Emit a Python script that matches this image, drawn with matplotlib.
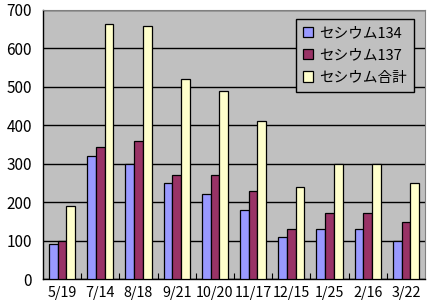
import matplotlib
matplotlib.use('Agg')
import matplotlib.pyplot as plt
import numpy as np

plt.rcParams['font.family'] = ['Noto Sans CJK JP', 'DejaVu Sans']

# données
dates = ['5/19', '7/14', '8/18', '9/21', '10/20', '11/17', '12/15', '1/25', '2/16', '3/22']
cs134 = [90, 320, 300, 250, 220, 180, 110, 130, 130, 100]
cs137 = [98, 343, 358, 270, 270, 229, 129, 171, 171, 148]
cs_total = [190, 664, 658, 520, 490, 410, 239, 300, 300, 250]

fig = plt.figure(figsize=(4.37, 3.02), dpi=100)
ax = fig.add_axes([43 / 437, 23 / 302, 382 / 437, 269 / 302])
ax.set_facecolor('#C0C0C0')

x = np.arange(len(dates))
w = 0.23
kw = dict(width=w, edgecolor='black', linewidth=0.9, zorder=3)
ax.bar(x - w, cs134, color='#9999FF', label='セシウム134', **kw)
ax.bar(x, cs137, color='#993366', label='セシウム137', **kw)
ax.bar(x + w, cs_total, color='#FFFFCC', label='セシウム合計', **kw)

ax.set_xlim(-0.5, len(dates) - 0.5)
ax.set_ylim(0, 700)
ax.set_yticks(range(0, 701, 100))
ax.set_xticks(x)
ax.set_xticklabels(dates)
ax.set_xticks(np.arange(0.5, len(dates) - 0.5, 1), minor=True)
ax.tick_params(axis='x', which='major', length=0, labelsize=10.3, pad=5)
ax.tick_params(axis='x', which='minor', length=4, direction='in', width=0.8)
ax.tick_params(axis='y', length=0, labelsize=11, pad=8)

ax.yaxis.grid(True, color='black', linewidth=1, zorder=1)
ax.set_axisbelow(True)

for s in ['top', 'right']:
    ax.spines[s].set_color('#808080')
    ax.spines[s].set_linewidth(0.8)
for s in ['left', 'bottom']:
    ax.spines[s].set_color('black')
    ax.spines[s].set_linewidth(1)

leg = ax.legend(loc='upper right', bbox_to_anchor=(0.99, 0.993), fontsize=10.5,
                frameon=True, fancybox=False, facecolor='#C0C0C0', edgecolor='black',
                framealpha=1, handlelength=0.7, handleheight=0.7, handletextpad=0.4,
                labelspacing=0.55, borderpad=0.5)
leg.get_frame().set_linewidth(1)

fig.savefig('out.png', dpi=100)
